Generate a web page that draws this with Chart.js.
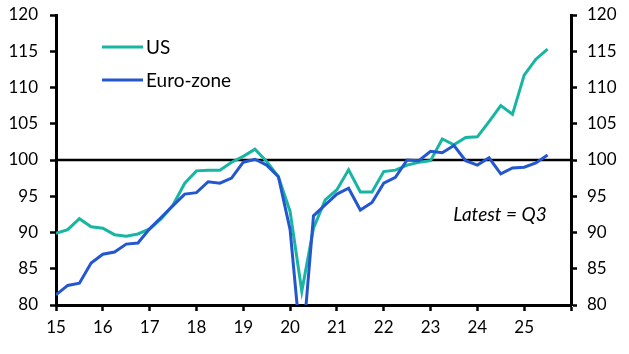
<!DOCTYPE html>
<html lang="en">
<head>
    <meta charset="UTF-8">
    <title>US vs Euro-zone</title>
    <script src="https://cdn.jsdelivr.net/npm/chart.js"></script>
    <style>
        html, body { margin: 0; padding: 0; background: #fff; }
        #wrap { width: 629px; height: 354px; }
    </style>
</head>
<body>
    <div id="wrap"><canvas id="chart" width="629" height="354"></canvas></div>
    <script>
        // quarterly, 2015 Q1 .. 2025 Q3
        const firstYear = 2015;
        const usValues = [89.9, 90.4, 91.9, 90.8, 90.6, 89.7, 89.5, 89.8, 90.5, 91.9,
            93.8, 96.8, 98.5, 98.6, 98.6, 99.7, 100.5, 101.5, 99.8, 97.7,
            92.9, 81.9, 90.6, 94.5, 95.9, 98.65, 95.6, 95.6, 98.4, 98.6,
            99.3, 99.7, 99.9, 102.9, 102.1, 103.1, 103.2, 105.3, 107.5, 106.3,
            111.7, 113.9, 115.3];
        const euroValues = [81.4, 82.7, 83.0, 85.8, 87.0, 87.3, 88.4, 88.55, 90.5, 92.1,
            93.7, 95.3, 95.5, 97.0, 96.8, 97.5, 99.7, 100.1, 99.3, 97.7,
            90.4, 73, 92.3, 93.8, 95.3, 96.1, 93.1, 94.15, 96.8, 97.6,
            100.0, 99.9, 101.2, 101.0, 102.0, 99.9, 99.3, 100.3, 98.1, 98.9,
            99.0, 99.6, 100.7];
        const refLine = [{ x: 2015, y: 100 }, { x: 2026, y: 100 }];
        const xTickYears = [2015, 2016, 2017, 2018, 2019, 2020, 2021, 2022, 2023, 2024, 2025];
        const yTicks = [80, 85, 90, 95, 100, 105, 110, 115, 120];

        const FONT = 'Lato, "Open Sans", sans-serif';

        function toPoints(values) {
            return values.map((v, i) => ({ x: firstYear + i * 0.25, y: v }));
        }

        const legendPlugin = {
            id: 'insideLegend',
            afterDatasetsDraw(chart) {
                const ctx = chart.ctx;
                const area = chart.chartArea;
                const items = chart.data.datasets.filter(d => d.showInLegend);
                ctx.save();
                ctx.font = '19px ' + FONT;
                ctx.textBaseline = 'middle';
                items.forEach((d, i) => {
                    const y = area.top + 32 + i * 33;
                    const x0 = area.left + 46;
                    ctx.strokeStyle = d.borderColor;
                    ctx.lineWidth = 3;
                    ctx.beginPath();
                    ctx.moveTo(x0, y);
                    ctx.lineTo(x0 + 41, y);
                    ctx.stroke();
                    ctx.fillStyle = '#000';
                    ctx.fillText(d.label, x0 + 44, y + 1);
                });
                ctx.restore();
            }
        };

        const notePlugin = {
            id: 'latestNote',
            afterDatasetsDraw(chart) {
                const ctx = chart.ctx;
                const x = chart.scales.x.getPixelForValue(2025.48);
                const y = chart.scales.y.getPixelForValue(92.4);
                ctx.save();
                ctx.font = 'italic 19px ' + FONT;
                ctx.textAlign = 'right';
                ctx.textBaseline = 'middle';
                ctx.fillStyle = '#000';
                ctx.fillText('Latest = Q3', x, y);
                ctx.restore();
            }
        };

        const axisCommon = {
            border: { display: true, color: '#000', width: 3 },
            grid: { drawOnChartArea: false, color: '#000', tickLength: 6, tickWidth: 2.5 }
        };

        function fitY(width) {
            return scale => {
                scale.width = width;
                scale.paddingTop = 0;
                scale.paddingBottom = 0;
            };
        }

        new Chart(document.getElementById('chart').getContext('2d'), {
            type: 'line',
            data: {
                datasets: [
                    {
                        label: 'US',
                        data: toPoints(usValues),
                        borderColor: '#17b5a2',
                        borderWidth: 3,
                        pointRadius: 0,
                        tension: 0,
                        clip: 0,
                        order: 1,
                        showInLegend: true
                    },
                    {
                        label: 'Euro-zone',
                        data: toPoints(euroValues),
                        borderColor: '#2457cf',
                        borderWidth: 3,
                        pointRadius: 0,
                        tension: 0,
                        clip: 0,
                        order: 0,
                        showInLegend: true
                    },
                    {
                        label: 'ref',
                        data: refLine,
                        borderColor: '#000',
                        borderWidth: 2.5,
                        pointRadius: 0,
                        order: 3
                    }
                ]
            },
            options: {
                responsive: false,
                animation: false,
                layout: { padding: { top: 15, left: 0, right: 0, bottom: 0 } },
                plugins: { legend: { display: false }, tooltip: { enabled: false } },
                scales: {
                    x: {
                        type: 'linear',
                        min: 2015,
                        max: 2026,
                        ...axisCommon,
                        afterBuildTicks(scale) {
                            scale.ticks = xTickYears.concat([2026]).map(v => ({ value: v }));
                        },
                        afterFit(scale) {
                            scale.height = 49;
                            scale.paddingLeft = 0;
                            scale.paddingRight = 0;
                        },
                        ticks: {
                            color: '#000',
                            font: { family: FONT, size: 17 },
                            padding: 6,
                            maxRotation: 0,
                            autoSkip: false,
                            callback: v => (xTickYears.includes(v) ? String(v - 2000) : '')
                        }
                    },
                    y: {
                        position: 'left',
                        min: 80,
                        max: 120,
                        ...axisCommon,
                        afterBuildTicks(scale) { scale.ticks = yTicks.map(v => ({ value: v })); },
                        afterFit: fitY(56),
                        ticks: { color: '#000', font: { family: FONT, size: 17 }, padding: 12 }
                    },
                    y2: {
                        position: 'right',
                        min: 80,
                        max: 120,
                        ...axisCommon,
                        afterBuildTicks(scale) { scale.ticks = yTicks.map(v => ({ value: v })); },
                        afterFit: fitY(58),
                        ticks: { color: '#000', font: { family: FONT, size: 17 }, padding: 10 }
                    }
                }
            },
            plugins: [legendPlugin, notePlugin]
        });
    </script>
</body>
</html>
